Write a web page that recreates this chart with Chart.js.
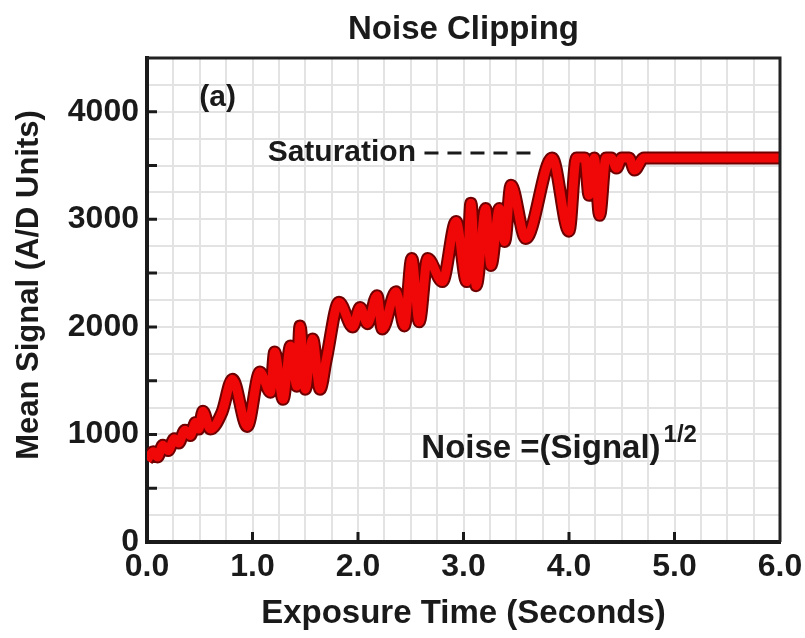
<!DOCTYPE html>
<html>
<head>
<meta charset="utf-8">
<script src="https://cdn.jsdelivr.net/npm/chart.js@4/dist/chart.umd.min.js"></script>
<style>
  html, body { margin: 0; padding: 0; background: #fff; }
  #wrap { width: 805px; height: 638px; }
</style>
</head>
<body>
<div id="wrap"><canvas id="chart" width="805" height="638"></canvas></div>
<script>
// exposure time (s) and mean signal (A/D units)
const timeS = [
  0.00, 0.06, 0.10, 0.15, 0.20, 0.26, 0.30, 0.36, 0.41, 0.46, 0.49, 0.53, 0.60,
  0.71, 0.81, 0.95, 1.07, 1.17, 1.21, 1.29, 1.36, 1.42, 1.45, 1.50, 1.57, 1.64,
  1.70, 1.82, 1.95, 2.02, 2.09, 2.18, 2.23, 2.36, 2.44, 2.51, 2.58, 2.66, 2.80,
  2.93, 3.03, 3.07, 3.12, 3.21, 3.26, 3.34, 3.39, 3.45, 3.59, 3.84, 4.00, 4.07,
  4.15, 4.19, 4.24, 4.29, 4.35, 4.40, 4.45, 4.50, 4.57, 4.62, 4.71, 6.00
];
const signalADU = [
  760, 840, 790, 900, 850, 960, 920, 1040, 990, 1110, 1050, 1215, 1050,
  1206, 1514, 1075, 1580, 1393, 1766, 1327, 1822, 1449, 2009, 1420, 1888, 1420,
  1700, 2230, 2000, 2180, 2030, 2290, 1981, 2327, 2009, 2636, 2047, 2636, 2421,
  2981, 2421, 3150, 2383, 3100, 2570, 3100, 2794, 3318, 2822, 3570, 2890, 3570,
  3570, 3224, 3570, 3037, 3570, 3570, 3477, 3570, 3570, 3458, 3570, 3570
];

// saturation marker
const satTime = [2.63, 3.67];
const satLevel = [3617, 3617];

const yLabels = [0, 1000, 2000, 3000, 4000];
const xLabels = [0, 1, 2, 3, 4, 5, 6];
const yMinorTicks = [500, 1000, 1500, 2000, 2500, 3000, 3500, 4000];
const xMinorTicks = [1, 2, 3, 4, 5];

const FONT = "'Liberation Sans', Arial, sans-serif";
const INK = "#1a1a1a";

const signalPts = timeS.map((t, i) => ({ x: t, y: signalADU[i] }));
const satPts = satTime.map((t, i) => ({ x: t, y: satLevel[i] }));

const frame = {
  id: "frame",
  afterDatasetsDraw(chart) {
    const { ctx, chartArea: a, scales: { x, y } } = chart;
    ctx.save();
    // top and right border
    ctx.strokeStyle = "#222";
    ctx.lineWidth = 3;
    ctx.beginPath();
    ctx.moveTo(a.left, a.top);
    ctx.lineTo(a.right, a.top);
    ctx.lineTo(a.right, a.bottom);
    ctx.stroke();
    // inward tick marks
    ctx.strokeStyle = INK;
    ctx.lineWidth = 3;
    ctx.beginPath();
    yMinorTicks.forEach(v => {
      const py = y.getPixelForValue(v);
      ctx.moveTo(a.left, py);
      ctx.lineTo(a.left + 10, py);
    });
    xMinorTicks.forEach(v => {
      const px = x.getPixelForValue(v);
      ctx.moveTo(px, a.bottom);
      ctx.lineTo(px, a.bottom - 10);
    });
    ctx.stroke();

    // labels inside the plot
    ctx.fillStyle = INK;
    ctx.font = "bold 30px " + FONT;
    ctx.textBaseline = "middle";
    ctx.textAlign = "center";
    ctx.fillText("(a)", x.getPixelForValue(0.67), y.getPixelForValue(4130));
    ctx.textAlign = "right";
    ctx.fillText("Saturation", x.getPixelForValue(2.55), y.getPixelForValue(3617));

    ctx.textAlign = "left";
    ctx.textBaseline = "alphabetic";
    ctx.font = "bold 33px " + FONT;
    const nx = x.getPixelForValue(2.6), ny = y.getPixelForValue(780);
    const main = "Noise =(Signal)";
    ctx.fillText(main, nx, ny);
    const w = ctx.measureText(main).width;
    ctx.font = "bold 24px " + FONT;
    ctx.fillText("1/2", nx + w + 3, ny - 16);

    // chart title
    ctx.font = "bold 33px " + FONT;
    ctx.textAlign = "center";
    ctx.textBaseline = "middle";
    ctx.fillText("Noise Clipping", (a.left + a.right) / 2, 30);

    // y axis title
    ctx.translate(29, 285);
    ctx.rotate(-Math.PI / 2);
    ctx.font = "bold 31px " + FONT;
    ctx.fillText("Mean Signal (A/D Units)", 0, 0);
    ctx.restore();
  }
};

new Chart(document.getElementById("chart"), {
  type: "line",
  data: {
    datasets: [
      {
        data: signalPts,
        borderColor: "#f00808",
        borderWidth: 9,
        pointRadius: 0,
        cubicInterpolationMode: "monotone",
        order: 1
      },
      {
        data: signalPts,
        borderColor: "#6e0000",
        borderWidth: 13,
        pointRadius: 0,
        cubicInterpolationMode: "monotone",
        order: 2
      },
      {
        data: satPts,
        borderColor: INK,
        borderWidth: 3,
        borderDash: [14, 9],
        pointRadius: 0,
        order: 3
      }
    ]
  },
  options: {
    responsive: false,
    animation: false,
    layout: { padding: { top: 58, right: 25, left: 6, bottom: 4 } },
    plugins: { legend: { display: false }, tooltip: { enabled: false } },
    scales: {
      x: {
        type: "linear",
        min: 0,
        max: 6,
        afterFit: s => { s.height = 92; s.paddingRight = 0; s.paddingLeft = 0; },
        ticks: {
          stepSize: 0.25,
          autoSkip: false,
          maxRotation: 0,
          padding: 6,
          color: INK,
          font: { family: FONT, size: 32, weight: "bold" },
          callback: v => xLabels.includes(v) ? v.toFixed(1) : ""
        },
        grid: { color: "#e3e3e3", lineWidth: 2, drawTicks: false },
        border: { color: INK, width: 4 },
        title: {
          display: true,
          text: "Exposure Time (Seconds)",
          color: INK,
          font: { family: FONT, size: 33, weight: "bold" },
          padding: { top: 0, bottom: 0 }
        }
      },
      y: {
        min: 0,
        max: 4500,
        afterFit: s => { s.width = 141; },
        ticks: {
          stepSize: 250,
          autoSkip: false,
          padding: 8,
          color: INK,
          font: { family: FONT, size: 32, weight: "bold" },
          callback: v => yLabels.includes(v) ? String(v) : ""
        },
        grid: { color: "#e3e3e3", lineWidth: 2, drawTicks: false },
        border: { color: INK, width: 4 }
      }
    }
  },
  plugins: [frame]
});
</script>
</body>
</html>
